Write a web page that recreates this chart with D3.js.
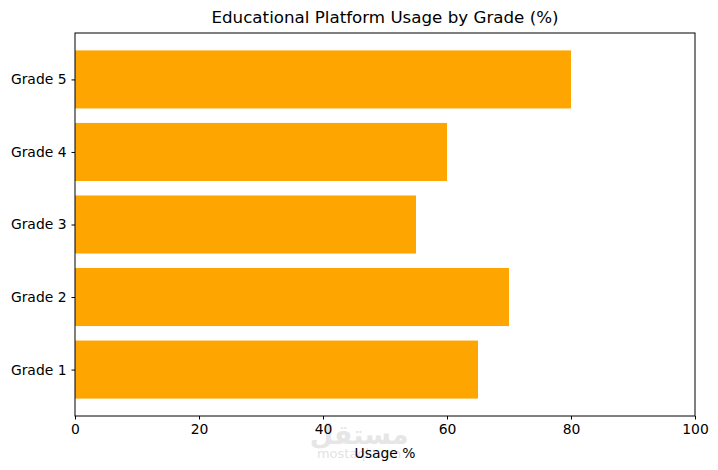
<!DOCTYPE html>
<html><head><meta charset="utf-8">
<script src="https://cdn.jsdelivr.net/npm/d3@7"></script>
<style>body{margin:0;background:#fff}svg{display:block}text{font-family:"DejaVu Sans",sans-serif}</style>
</head><body>
<svg id="c" width="718" height="470"></svg>
<script>
const categories = ["Grade 1","Grade 2","Grade 3","Grade 4","Grade 5"];
const usage = [65, 70, 55, 60, 80];
const xTicks = [0, 20, 40, 60, 80, 100];
const title = "Educational Platform Usage by Grade (%)";
const xLabel = "Usage %";

const svg = d3.select("#c");
const L = 75, R = 695, T = 33, B = 416;
const x = d3.scaleLinear().domain([0, 100]).range([L, R]);
const y = d3.scaleLinear().domain([-0.64, 4.64]).range([B, T]);
const bh = y(0) - y(0.8);

// watermark
svg.append("text").attr("x", 359).attr("y", 444).attr("text-anchor","middle")
  .attr("font-size", 27).attr("font-weight","bold").attr("fill","#e6e6e6")
  .style("font-family","'Noto Sans','DejaVu Sans',sans-serif").text("مستقل");
svg.append("text").attr("x", 359).attr("y", 458).attr("text-anchor","middle")
  .attr("font-size", 13).attr("fill","#e3e3e3").text("mostaql.com");

svg.selectAll("rect.bar").data(categories).join("rect").attr("class","bar")
  .attr("x", x(0)).attr("y", (d,i) => y(i + 0.4))
  .attr("width", (d,i) => x(usage[i]) - x(0)).attr("height", bh)
  .attr("fill", "#FFA500");

svg.append("rect").attr("x", L).attr("y", T).attr("width", R-L).attr("height", B-T)
  .attr("fill","none").attr("stroke","#000").attr("stroke-width",1);

const xa = svg.append("g").attr("transform", `translate(0,${B})`)
  .call(d3.axisBottom(x).tickValues(xTicks).tickSize(3.5).tickPadding(5).tickFormat(d3.format("d")));
const ya = svg.append("g").attr("transform", `translate(${L},0)`)
  .call(d3.axisLeft(y).tickValues(d3.range(categories.length)).tickSize(3.5).tickPadding(5).tickFormat(i => categories[i]));
[xa, ya].forEach(a => {
  a.select(".domain").remove();
  a.selectAll("text").attr("font-size", 13.9).attr("fill","#000").style("font-family","'DejaVu Sans',sans-serif");
  a.selectAll("line").attr("stroke","#000");
});

svg.append("text").attr("x", (L+R)/2).attr("y", 23).attr("text-anchor","middle")
  .attr("font-size", 16.7).attr("fill","#000").text(title);
svg.append("text").attr("x", (L+R)/2).attr("y", 458).attr("text-anchor","middle")
  .attr("font-size", 13.9).attr("fill","#000").text(xLabel);
</script>
</body></html>
